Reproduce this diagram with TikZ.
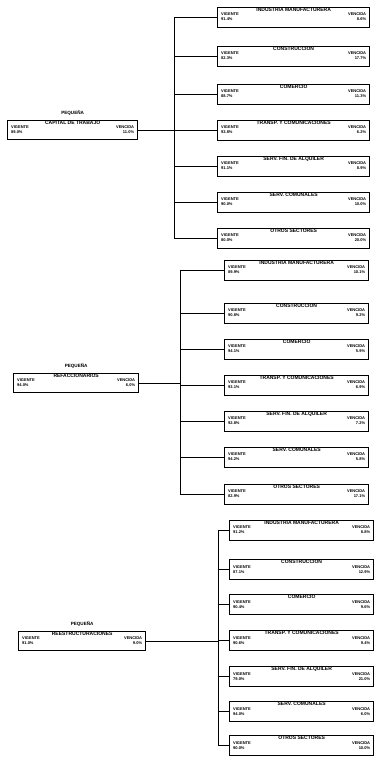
\documentclass[tikz,border=0pt]{standalone}
\usepackage{fontspec}
\setmainfont{Liberation Sans}
\begin{document}
\begin{tikzpicture}[x=1pt,y=-1pt,
  bx/.style={draw=black,line width=1.3pt,minimum height=20pt,inner sep=0pt,fill=white},
  lbx/.style={draw=black,line width=1.3pt,minimum height=19pt,inner sep=0pt,fill=white},
  ttl/.style={inner sep=0pt,anchor=north,font=\bfseries\fontsize{5}{5.5}\selectfont},
  lbl/.style={inner sep=0pt,font=\bfseries\fontsize{4}{5}\selectfont},
  ptl/.style={inner sep=0pt,font=\bfseries\fontsize{4.6}{5}\selectfont},
  cn/.style={line width=1pt}]
\useasboundingbox (0,0) rectangle (375,760);
\newcommand\rbx[7]{%
  \node[bx,minimum width=#4,anchor=north west] (#1) at (#2,#3) {};
  \node[ttl] (#1t) at ([yshift=-0.9pt]#1.north) {#5};
  \node[lbl,anchor=north west,align=left] (#1v) at ([xshift=4pt,yshift=-6pt]#1.north west) {VIGENTE\\#6};
  \node[lbl,anchor=north east,align=right] (#1w) at ([xshift=-4pt,yshift=-6pt]#1.north east) {VENCIDA\\#7};
}
\newcommand\lbox[8]{% name, x, ycenter, w, top label, title, vig, ven
  \node[lbx,minimum width=#4,anchor=west] (#1) at (#2,#3) {};
  \node[ptl,anchor=south] (#1p) at ([yshift=4pt]#1.north) {#5};
  \node[ttl] (#1t) at ([yshift=-0.9pt]#1.north) {#6};
  \node[lbl,anchor=north west,align=left] (#1v) at ([xshift=4pt,yshift=-5.5pt]#1.north west) {VIGENTE\\#7};
  \node[lbl,anchor=north east,align=right] (#1w) at ([xshift=-4pt,yshift=-5.5pt]#1.north east) {VENCIDA\\#8};
}
% ---------- group 1
\rbx{a1}{217}{7}{152}{INDUSTRIA MANUFACTURERA}{91.4\%}{8.6\%}
\rbx{a2}{217}{46}{152}{CONSTRUCCION}{82.3\%}{17.7\%}
\rbx{a3}{217}{84}{152}{COMERCIO}{88.7\%}{11.3\%}
\rbx{a4}{217}{120}{152}{TRANSP. Y COMUNICACIONES}{93.8\%}{6.2\%}
\rbx{a5}{217}{156}{152}{SERV. FIN. DE ALQUILER}{91.1\%}{8.9\%}
\rbx{a6}{217}{192}{152}{SERV. COMUNALES}{90.0\%}{10.0\%}
\rbx{a7}{217}{228}{152}{OTROS SECTORES}{80.0\%}{20.0\%}
\lbox{aL}{7}{130}{130}{PEQUEÑA}{CAPITAL DE TRABAJO}{89.0\%}{11.0\%}
\coordinate (abus) at (174,0);
\draw[cn] (abus |- a1.west) -- (abus |- a7.west);
\foreach \i in {1,...,7} \draw[cn] (abus |- a\i.west) -- (a\i.west);
\draw[cn] (aL.east) -- (aL.east -| abus);
% ---------- group 2
\rbx{b1}{224}{260}{144}{INDUSTRIA MANUFACTURERA}{89.9\%}{10.1\%}
\rbx{b2}{224}{303}{144}{CONSTRUCCION}{90.8\%}{9.2\%}
\rbx{b3}{224}{339}{144}{COMERCIO}{94.1\%}{5.9\%}
\rbx{b4}{224}{375}{144}{TRANSP. Y COMUNICACIONES}{93.1\%}{6.9\%}
\rbx{b5}{224}{411}{144}{SERV. FIN. DE ALQUILER}{92.8\%}{7.2\%}
\rbx{b6}{224}{447}{144}{SERV. COMUNALES}{94.2\%}{5.8\%}
\rbx{b7}{224}{484}{144}{OTROS SECTORES}{82.9\%}{17.1\%}
\lbox{bL}{13}{383}{125}{PEQUEÑA}{REFACCIONARIOS}{94.0\%}{6.0\%}
\coordinate (bbus) at (180,0);
\draw[cn] (bbus |- b1.west) -- (bbus |- b7.west);
\foreach \i in {1,...,7} \draw[cn] (bbus |- b\i.west) -- (b\i.west);
\draw[cn] (bL.east) -- (bL.east -| bbus);
% ---------- group 3
\rbx{c1}{229}{520}{144}{INDUSTRIA MANUFACTURERA}{91.2\%}{8.8\%}
\rbx{c2}{229}{559}{144}{CONSTRUCCION}{87.1\%}{12.9\%}
\rbx{c3}{229}{594}{144}{COMERCIO}{90.4\%}{9.6\%}
\rbx{c4}{229}{630}{144}{TRANSP. Y COMUNICACIONES}{90.6\%}{9.4\%}
\rbx{c5}{229}{666}{144}{SERV. FIN. DE ALQUILER}{79.0\%}{21.0\%}
\rbx{c6}{229}{701}{144}{SERV. COMUNALES}{94.0\%}{6.0\%}
\rbx{c7}{229}{735}{144}{OTROS SECTORES}{90.0\%}{10.0\%}
\lbox{cL}{18}{641}{127}{PEQUEÑA}{REESTRUCTURACIONES}{91.0\%}{9.0\%}
\coordinate (cbus) at (218,0);
\draw[cn] (cbus |- c1.west) -- (cbus |- c7.west);
\foreach \i in {1,...,7} \draw[cn] (cbus |- c\i.west) -- (c\i.west);
\draw[cn] (cL.east) -- (cL.east -| cbus);
\end{tikzpicture}
\end{document}
